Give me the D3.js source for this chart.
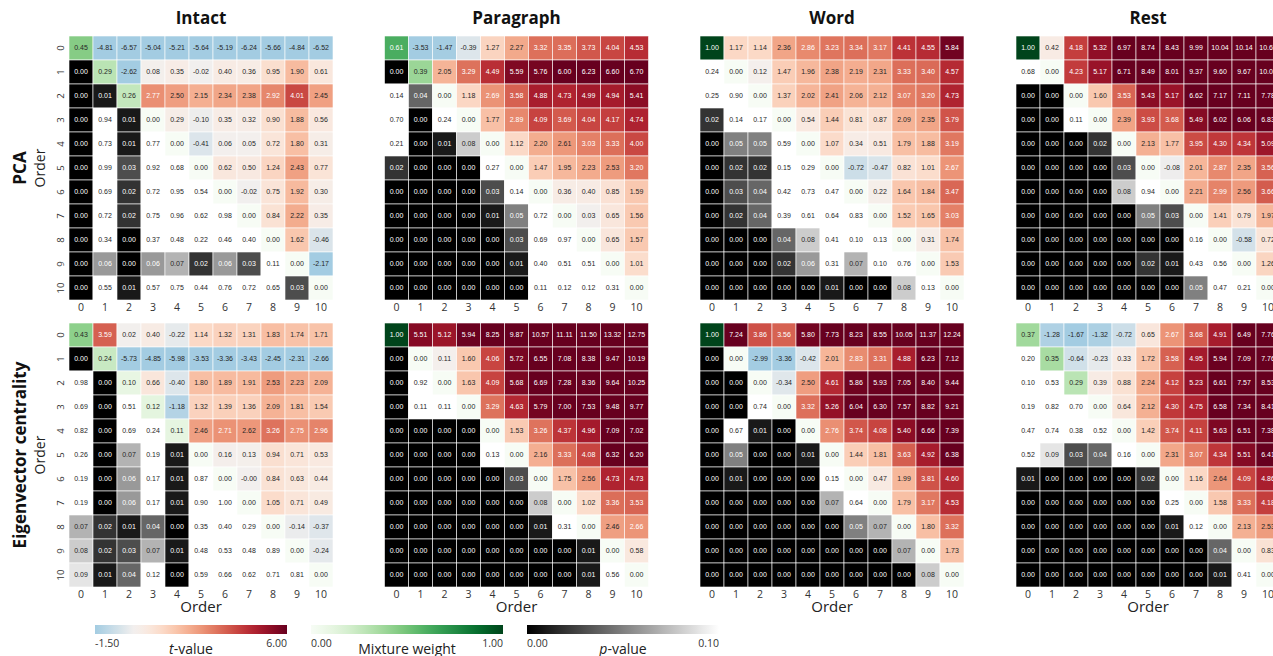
<!DOCTYPE html>
<html>
<head>
<meta charset="utf-8">
<script src="https://cdn.jsdelivr.net/npm/d3@7"></script>
<style>
  body { margin: 0; background: #fff; }
  svg { display: block; }
</style>
</head>
<body>
<div id="chart"></div>
<script>
// Model order (rows and columns of every matrix)
const orders = [0, 1, 2, 3, 4, 5, 6, 7, 8, 9, 10];
const columnTitles = ['Intact', 'Paragraph', 'Word', 'Rest'];
const rowTitles = ['PCA', 'Eigenvector centrality'];

// Matrices: diagonal = mixture weight, upper triangle = t-value, lower triangle = p-value
const intactPCA = [
    [0.45, -4.81, -6.57, -5.04, -5.21, -5.64, -5.19, -6.24, -5.66, -4.84, -6.52],
    [0.00, 0.29, -2.62, 0.08, 0.35, -0.02, 0.40, 0.36, 0.95, 1.90, 0.61],
    [0.00, 0.01, 0.26, 2.77, 2.50, 2.15, 2.34, 2.38, 2.92, 4.01, 2.45],
    [0.00, 0.94, 0.01, 0.00, 0.29, -0.10, 0.35, 0.32, 0.90, 1.88, 0.56],
    [0.00, 0.73, 0.01, 0.77, 0.00, -0.41, 0.06, 0.05, 0.72, 1.80, 0.31],
    [0.00, 0.99, 0.03, 0.92, 0.68, 0.00, 0.62, 0.50, 1.24, 2.43, 0.77],
    [0.00, 0.69, 0.02, 0.72, 0.95, 0.54, 0.00, -0.02, 0.75, 1.92, 0.30],
    [0.00, 0.72, 0.02, 0.75, 0.96, 0.62, 0.98, 0.00, 0.84, 2.22, 0.35],
    [0.00, 0.34, 0.00, 0.37, 0.48, 0.22, 0.46, 0.40, 0.00, 1.62, -0.46],
    [0.00, 0.06, 0.00, 0.06, 0.07, 0.02, 0.06, 0.03, 0.11, 0.00, -2.17],
    [0.00, 0.55, 0.01, 0.57, 0.75, 0.44, 0.76, 0.72, 0.65, 0.03, 0.00]
];
const paragraphPCA = [
    [0.61, -3.53, -1.47, -0.39, 1.27, 2.27, 3.32, 3.35, 3.73, 4.04, 4.53],
    [0.00, 0.39, 2.05, 3.29, 4.49, 5.59, 5.76, 6.00, 6.23, 6.60, 6.70],
    [0.14, 0.04, 0.00, 1.18, 2.69, 3.58, 4.88, 4.73, 4.99, 4.94, 5.41],
    [0.70, 0.00, 0.24, 0.00, 1.77, 2.89, 4.09, 3.69, 4.04, 4.17, 4.74],
    [0.21, 0.00, 0.01, 0.08, 0.00, 1.12, 2.20, 2.61, 3.03, 3.33, 4.00],
    [0.02, 0.00, 0.00, 0.00, 0.27, 0.00, 1.47, 1.95, 2.23, 2.53, 3.20],
    [0.00, 0.00, 0.00, 0.00, 0.03, 0.14, 0.00, 0.36, 0.40, 0.85, 1.59],
    [0.00, 0.00, 0.00, 0.00, 0.01, 0.05, 0.72, 0.00, 0.03, 0.65, 1.56],
    [0.00, 0.00, 0.00, 0.00, 0.00, 0.03, 0.69, 0.97, 0.00, 0.65, 1.57],
    [0.00, 0.00, 0.00, 0.00, 0.00, 0.01, 0.40, 0.51, 0.51, 0.00, 1.01],
    [0.00, 0.00, 0.00, 0.00, 0.00, 0.00, 0.11, 0.12, 0.12, 0.31, 0.00]
];
const wordPCA = [
    [1.00, 1.17, 1.14, 2.36, 2.86, 3.23, 3.34, 3.17, 4.41, 4.55, 5.84],
    [0.24, 0.00, 0.12, 1.47, 1.96, 2.38, 2.19, 2.31, 3.33, 3.40, 4.57],
    [0.25, 0.90, 0.00, 1.37, 2.02, 2.41, 2.06, 2.12, 3.07, 3.20, 4.73],
    [0.02, 0.14, 0.17, 0.00, 0.54, 1.44, 0.81, 0.87, 2.09, 2.35, 3.79],
    [0.00, 0.05, 0.05, 0.59, 0.00, 1.07, 0.34, 0.51, 1.79, 1.88, 3.19],
    [0.00, 0.02, 0.02, 0.15, 0.29, 0.00, -0.72, -0.47, 0.82, 1.01, 2.67],
    [0.00, 0.03, 0.04, 0.42, 0.73, 0.47, 0.00, 0.22, 1.64, 1.84, 3.47],
    [0.00, 0.02, 0.04, 0.39, 0.61, 0.64, 0.83, 0.00, 1.52, 1.65, 3.03],
    [0.00, 0.00, 0.00, 0.04, 0.08, 0.41, 0.10, 0.13, 0.00, 0.31, 1.74],
    [0.00, 0.00, 0.00, 0.02, 0.06, 0.31, 0.07, 0.10, 0.76, 0.00, 1.53],
    [0.00, 0.00, 0.00, 0.00, 0.00, 0.01, 0.00, 0.00, 0.08, 0.13, 0.00]
];
const restPCA = [
    [1.00, 0.42, 4.18, 5.32, 6.97, 8.74, 8.43, 9.99, 10.04, 10.14, 10.63],
    [0.68, 0.00, 4.23, 5.17, 6.71, 8.49, 8.01, 9.37, 9.60, 9.67, 10.03],
    [0.00, 0.00, 0.00, 1.60, 3.53, 5.43, 5.17, 6.62, 7.17, 7.11, 7.78],
    [0.00, 0.00, 0.11, 0.00, 2.39, 3.93, 3.68, 5.49, 6.02, 6.06, 6.83],
    [0.00, 0.00, 0.00, 0.02, 0.00, 2.13, 1.77, 3.95, 4.30, 4.34, 5.09],
    [0.00, 0.00, 0.00, 0.00, 0.03, 0.00, -0.08, 2.01, 2.87, 2.35, 3.56],
    [0.00, 0.00, 0.00, 0.00, 0.08, 0.94, 0.00, 2.21, 2.99, 2.56, 3.66],
    [0.00, 0.00, 0.00, 0.00, 0.00, 0.05, 0.03, 0.00, 1.41, 0.79, 1.97],
    [0.00, 0.00, 0.00, 0.00, 0.00, 0.00, 0.00, 0.16, 0.00, -0.58, 0.72],
    [0.00, 0.00, 0.00, 0.00, 0.00, 0.02, 0.01, 0.43, 0.56, 0.00, 1.26],
    [0.00, 0.00, 0.00, 0.00, 0.00, 0.00, 0.00, 0.05, 0.47, 0.21, 0.00]
];
const intactEC = [
    [0.43, 3.59, 0.02, 0.40, -0.22, 1.14, 1.32, 1.31, 1.83, 1.74, 1.71],
    [0.00, 0.24, -5.73, -4.85, -5.98, -3.53, -3.36, -3.43, -2.45, -2.31, -2.66],
    [0.98, 0.00, 0.10, 0.66, -0.40, 1.80, 1.89, 1.91, 2.53, 2.23, 2.09],
    [0.69, 0.00, 0.51, 0.12, -1.18, 1.32, 1.39, 1.36, 2.09, 1.81, 1.54],
    [0.82, 0.00, 0.69, 0.24, 0.11, 2.46, 2.71, 2.62, 3.26, 2.75, 2.96],
    [0.26, 0.00, 0.07, 0.19, 0.01, 0.00, 0.16, 0.13, 0.94, 0.71, 0.53],
    [0.19, 0.00, 0.06, 0.17, 0.01, 0.87, 0.00, -0.001, 0.84, 0.63, 0.44],
    [0.19, 0.00, 0.06, 0.17, 0.01, 0.90, 1.00, 0.00, 1.05, 0.71, 0.49],
    [0.07, 0.02, 0.01, 0.04, 0.00, 0.35, 0.40, 0.29, 0.00, -0.14, -0.37],
    [0.08, 0.02, 0.03, 0.07, 0.01, 0.48, 0.53, 0.48, 0.89, 0.00, -0.24],
    [0.09, 0.01, 0.04, 0.12, 0.00, 0.59, 0.66, 0.62, 0.71, 0.81, 0.00]
];
const paragraphEC = [
    [1.00, 5.51, 5.12, 5.94, 8.25, 9.87, 10.57, 11.11, 11.50, 13.32, 12.75],
    [0.00, 0.00, 0.11, 1.60, 4.06, 5.72, 6.55, 7.08, 8.38, 9.47, 10.19],
    [0.00, 0.92, 0.00, 1.63, 4.09, 5.68, 6.69, 7.28, 8.36, 9.64, 10.25],
    [0.00, 0.11, 0.11, 0.00, 3.29, 4.63, 5.79, 7.00, 7.53, 9.48, 9.77],
    [0.00, 0.00, 0.00, 0.00, 0.00, 1.53, 3.26, 4.37, 4.96, 7.09, 7.02],
    [0.00, 0.00, 0.00, 0.00, 0.13, 0.00, 2.16, 3.33, 4.08, 6.32, 6.20],
    [0.00, 0.00, 0.00, 0.00, 0.00, 0.03, 0.00, 1.75, 2.56, 4.73, 4.73],
    [0.00, 0.00, 0.00, 0.00, 0.00, 0.00, 0.08, 0.00, 1.02, 3.36, 3.53],
    [0.00, 0.00, 0.00, 0.00, 0.00, 0.00, 0.01, 0.31, 0.00, 2.46, 2.66],
    [0.00, 0.00, 0.00, 0.00, 0.00, 0.00, 0.00, 0.00, 0.01, 0.00, 0.58],
    [0.00, 0.00, 0.00, 0.00, 0.00, 0.00, 0.00, 0.00, 0.01, 0.56, 0.00]
];
const wordEC = [
    [1.00, 7.24, 3.86, 3.56, 5.80, 7.73, 8.23, 8.55, 10.05, 11.37, 12.24],
    [0.00, 0.00, -2.99, -3.36, -0.42, 2.01, 2.83, 3.31, 4.88, 6.23, 7.12],
    [0.00, 0.00, 0.00, -0.34, 2.50, 4.61, 5.86, 5.93, 7.05, 8.40, 9.44],
    [0.00, 0.00, 0.74, 0.00, 3.32, 5.26, 6.04, 6.30, 7.57, 8.82, 9.21],
    [0.00, 0.67, 0.01, 0.00, 0.00, 2.76, 3.74, 4.08, 5.40, 6.66, 7.39],
    [0.00, 0.05, 0.00, 0.00, 0.01, 0.00, 1.44, 1.81, 3.63, 4.92, 6.38],
    [0.00, 0.01, 0.00, 0.00, 0.00, 0.15, 0.00, 0.47, 1.99, 3.81, 4.60],
    [0.00, 0.00, 0.00, 0.00, 0.00, 0.07, 0.64, 0.00, 1.79, 3.17, 4.53],
    [0.00, 0.00, 0.00, 0.00, 0.00, 0.00, 0.05, 0.07, 0.00, 1.80, 3.32],
    [0.00, 0.00, 0.00, 0.00, 0.00, 0.00, 0.00, 0.00, 0.07, 0.00, 1.73],
    [0.00, 0.00, 0.00, 0.00, 0.00, 0.00, 0.00, 0.00, 0.00, 0.08, 0.00]
];
const restEC = [
    [0.37, -1.28, -1.67, -1.32, -0.72, 0.65, 2.67, 3.68, 4.91, 6.49, 7.76],
    [0.20, 0.35, -0.64, -0.23, 0.33, 1.72, 3.58, 4.95, 5.94, 7.09, 7.76],
    [0.10, 0.53, 0.29, 0.39, 0.88, 2.24, 4.12, 5.23, 6.61, 7.57, 8.53],
    [0.19, 0.82, 0.70, 0.00, 0.64, 2.12, 4.30, 4.75, 6.58, 7.34, 8.41],
    [0.47, 0.74, 0.38, 0.52, 0.00, 1.42, 3.74, 4.11, 5.63, 6.51, 7.38],
    [0.52, 0.09, 0.03, 0.04, 0.16, 0.00, 2.31, 3.07, 4.34, 5.51, 6.41],
    [0.01, 0.00, 0.00, 0.00, 0.00, 0.02, 0.00, 1.16, 2.64, 4.09, 4.86],
    [0.00, 0.00, 0.00, 0.00, 0.00, 0.00, 0.25, 0.00, 1.58, 3.33, 4.18],
    [0.00, 0.00, 0.00, 0.00, 0.00, 0.00, 0.01, 0.12, 0.00, 2.13, 2.53],
    [0.00, 0.00, 0.00, 0.00, 0.00, 0.00, 0.00, 0.00, 0.04, 0.00, 0.83],
    [0.00, 0.00, 0.00, 0.00, 0.00, 0.00, 0.00, 0.00, 0.01, 0.41, 0.00]
];

// Colour bar ranges
const tRange = [-1.5, 6];
const mixRange = [0, 1];
const pRange = [0, 0.1];

const panels = [
    [intactPCA, paragraphPCA, wordPCA, restPCA],
    [intactEC, paragraphEC, wordEC, restEC]
];

// Layout
const width = 1273, height = 656;
const cell = 24;
const gridSize = cell * orders.length;
const panelLeft = [69, 384.5, 700, 1016];
const panelTop = [36, 323];

const sansFont = "'Open Sans', 'Noto Sans', sans-serif";
const cellFont = "'Liberation Sans', Arial, sans-serif";

// Colour scales
const tPos = d3.scaleLinear().domain([0, tRange[1]]).range([0.5, 0]).clamp(true);
const tNeg = d3.scaleLinear().domain([tRange[0], 0]).range(['#a3cce2', d3.interpolateRdBu(0.5)]).clamp(true);
const tColor = v => v < 0 ? tNeg(v) : d3.interpolateRdBu(tPos(v));
const mixColor = d3.scaleSequential(d3.interpolateGreens).domain(mixRange);
const pColor = d3.scaleLinear().domain(pRange).range(['#000000', '#ffffff']).clamp(true);

function cellColor(v, i, j) {
    if (i === j) return mixColor(v);
    if (i > j) return pColor(v);
    return tColor(v);
}

function textColor(fill) {
    const c = d3.rgb(fill);
    const lin = u => { u /= 255; return u <= 0.03928 ? u / 12.92 : Math.pow((u + 0.055) / 1.055, 2.4); };
    const L = 0.2126 * lin(c.r) + 0.7152 * lin(c.g) + 0.0722 * lin(c.b);
    return L > 0.408 ? '#262626' : '#ffffff';
}

const svg = d3.select('#chart')
    .append('svg')
    .attr('width', width)
    .attr('height', height)
    .style('background', '#fff');

const x = d3.scaleBand().domain(orders).range([0, gridSize]);
const y = d3.scaleBand().domain(orders).range([0, gridSize]);

panels.forEach((row, r) => {
    row.forEach((matrix, c) => {
        const g = svg.append('g')
            .attr('transform', `translate(${panelLeft[c]}, ${panelTop[r]})`);

        const cells = [];
        matrix.forEach((vals, i) => vals.forEach((v, j) => cells.push({ i, j, v })));

        const cg = g.selectAll('.cell')
            .data(cells)
            .enter()
            .append('g')
            .attr('class', 'cell')
            .attr('transform', d => `translate(${x(d.j)}, ${y(d.i)})`);

        cg.append('rect')
            .attr('width', x.bandwidth())
            .attr('height', y.bandwidth())
            .attr('fill', d => cellColor(d.v, d.i, d.j))
            .attr('stroke', '#ffffff')
            .attr('stroke-width', 0.6);

        cg.append('text')
            .attr('x', x.bandwidth() / 2)
            .attr('y', y.bandwidth() / 2)
            .attr('dy', '0.35em')
            .attr('text-anchor', 'middle')
            .attr('font-family', cellFont)
            .attr('font-size', '7px')
            .attr('fill', d => textColor(cellColor(d.v, d.i, d.j)))
            .text(d => d.v.toFixed(2));

        // X axis ticks
        const xAxis = g.append('g')
            .attr('transform', `translate(0, ${gridSize})`)
            .call(d3.axisBottom(x).tickSize(0).tickPadding(4));
        xAxis.select('.domain').remove();
        xAxis.selectAll('text')
            .attr('font-family', sansFont)
            .attr('font-size', '10.5px')
            .attr('fill', '#333');

        // Y axis ticks only on first column, rotated
        if (c === 0) {
            const yAxis = g.append('g')
                .call(d3.axisLeft(y).tickSize(0));
            yAxis.select('.domain').remove();
            yAxis.selectAll('text')
                .attr('x', 0)
                .attr('dy', '0.35em')
                .attr('text-anchor', 'middle')
                .attr('transform', 'translate(-8,0) rotate(-90)')
                .attr('font-family', sansFont)
                .attr('font-size', '9.5px')
                .attr('fill', '#333');

            g.append('text')
                .attr('transform', `translate(-24, ${gridSize / 2}) rotate(-90)`)
                .attr('text-anchor', 'middle')
                .attr('font-family', sansFont)
                .attr('font-size', '14px')
                .attr('fill', '#222')
                .text('Order');

            g.append('text')
                .attr('transform', `translate(-43, ${gridSize / 2}) rotate(-90)`)
                .attr('text-anchor', 'middle')
                .attr('font-family', sansFont)
                .attr('font-weight', 'bold')
                .attr('font-size', '17px')
                .attr('fill', '#111')
                .text(rowTitles[r]);
        }

        if (r === 0) {
            g.append('text')
                .attr('x', gridSize / 2)
                .attr('y', -12)
                .attr('text-anchor', 'middle')
                .attr('font-family', sansFont)
                .attr('font-weight', 'bold')
                .attr('font-size', '17px')
                .attr('fill', '#111')
                .text(columnTitles[c]);
        } else {
            g.append('text')
                .attr('x', gridSize / 2)
                .attr('y', gridSize + 25)
                .attr('text-anchor', 'middle')
                .attr('font-family', sansFont)
                .attr('font-size', '15px')
                .attr('fill', '#222')
                .text('Order');
        }
    });
});

// Colour bars
const legends = [
    { id: 'tbar', x: 95, color: v => tColor(v), domain: tRange, labels: ['-1.50', '6.00'], italic: 't', rest: '-value' },
    { id: 'mbar', x: 311, color: v => mixColor(v), domain: mixRange, labels: ['0.00', '1.00'], italic: '', rest: 'Mixture weight' },
    { id: 'pbar', x: 527, color: v => pColor(v), domain: pRange, labels: ['0.00', '0.10'], italic: 'p', rest: '-value' }
];
const barW = 192, barH = 9, barY = 625;
const defs = svg.append('defs');

legends.forEach(lg => {
    const grad = defs.append('linearGradient')
        .attr('id', lg.id)
        .attr('x1', '0%').attr('x2', '100%')
        .attr('y1', '0%').attr('y2', '0%');
    const s = d3.scaleLinear().domain([0, 1]).range(lg.domain);
    d3.range(0, 1.0001, 0.02).forEach(t => {
        grad.append('stop')
            .attr('offset', `${t * 100}%`)
            .attr('stop-color', lg.color(s(t)));
    });

    const lx = d3.scaleLinear().domain(lg.domain).range([lg.x, lg.x + barW]);

    svg.append('rect')
        .attr('x', lx(lg.domain[0]))
        .attr('y', barY)
        .attr('width', lx(lg.domain[1]) - lx(lg.domain[0]))
        .attr('height', barH)
        .attr('fill', `url(#${lg.id})`);

    svg.append('text')
        .attr('x', lx(lg.domain[0]))
        .attr('y', barY + barH + 13)
        .attr('font-family', sansFont)
        .attr('font-size', '10.5px')
        .attr('fill', '#333')
        .text(lg.labels[0]);

    svg.append('text')
        .attr('x', lx(lg.domain[1]))
        .attr('y', barY + barH + 13)
        .attr('text-anchor', 'end')
        .attr('font-family', sansFont)
        .attr('font-size', '10.5px')
        .attr('fill', '#333')
        .text(lg.labels[1]);

    const title = svg.append('text')
        .attr('x', lg.x + barW / 2)
        .attr('y', barY + barH + 20)
        .attr('text-anchor', 'middle')
        .attr('font-family', sansFont)
        .attr('font-size', '14px')
        .attr('fill', '#222');
    if (lg.italic) title.append('tspan').attr('font-style', 'italic').text(lg.italic);
    title.append('tspan').text(lg.rest);
});
</script>
</body>
</html>
